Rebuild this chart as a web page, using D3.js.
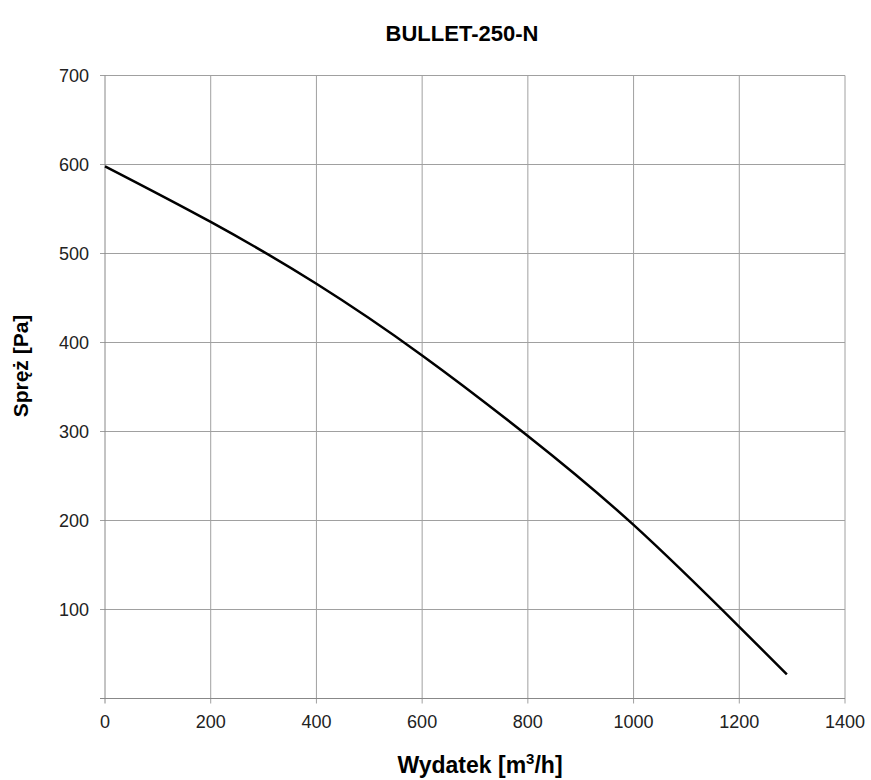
<!DOCTYPE html>
<html><head><meta charset="utf-8">
<script src="https://cdn.jsdelivr.net/npm/d3@7"></script>
<style>body{margin:0;background:#fff}text{font-family:"Liberation Sans",Arial,sans-serif}</style>
</head><body>
<svg id="c" width="871" height="780"></svg>
<script>
const title = "BULLET-250-N";
const flow = [0, 200, 400, 600, 800, 1000, 1200, 1290];
const pressure = [598, 535.5, 466, 385.5, 295, 195, 80.5, 27];
const xTicks = [0, 200, 400, 600, 800, 1000, 1200, 1400];
const yTicks = [100, 200, 300, 400, 500, 600, 700];

const svg = d3.select("#c");
const L = 105, R = 845, T = 75.5, B = 698.5;
const x = d3.scaleLinear().domain([0, 1400]).range([L, R]);
const y = d3.scaleLinear().domain([0, 700]).range([B, T]);

const grid = svg.append("g").attr("stroke", "#a0a0a0").attr("stroke-width", 1);
grid.selectAll(".v").data(xTicks.slice(1)).join("line")
  .attr("x1", d => x(d)).attr("x2", d => x(d)).attr("y1", T).attr("y2", B + 5);
grid.selectAll(".h").data(yTicks).join("line")
  .attr("x1", L - 5).attr("x2", R).attr("y1", d => y(d)).attr("y2", d => y(d));

const ax = svg.append("g").attr("stroke", "#888").attr("stroke-width", 1);
ax.append("line").attr("x1", L).attr("x2", L).attr("y1", T).attr("y2", B + 5);
ax.append("line").attr("x1", L - 5).attr("x2", R).attr("y1", B).attr("y2", B);

svg.append("g").selectAll("text").data(xTicks).join("text")
  .attr("x", d => x(d)).attr("y", 728).attr("text-anchor", "middle")
  .attr("font-size", 18).attr("fill", "#222").text(d => d);
svg.append("g").selectAll("text").data(yTicks).join("text")
  .attr("x", 89).attr("y", d => y(d) + 6.5).attr("text-anchor", "end")
  .attr("font-size", 18).attr("fill", "#222").text(d => d);

const pts = flow.map((f, i) => [f, pressure[i]]);
svg.append("path").datum(pts)
  .attr("d", d3.line().x(d => x(d[0])).y(d => y(d[1])).curve(d3.curveNatural))
  .attr("fill", "none").attr("stroke", "#000").attr("stroke-width", 2.5);

svg.append("text").attr("x", 462).attr("y", 41).attr("text-anchor", "middle")
  .attr("font-size", 22).attr("font-weight", "bold").text(title);
svg.append("text").attr("transform", "translate(28,366) rotate(-90)")
  .attr("text-anchor", "middle").attr("font-size", 21).attr("font-weight", "bold")
  .text("Spręż [Pa]");
const xl = svg.append("text").attr("x", 480).attr("y", 773).attr("text-anchor", "middle")
  .attr("font-size", 23).attr("font-weight", "bold");
xl.append("tspan").text("Wydatek [m");
xl.append("tspan").attr("font-size", 15).attr("dy", -9).text("3");
xl.append("tspan").attr("dy", 9).text("/h]");
</script>
</body></html>
